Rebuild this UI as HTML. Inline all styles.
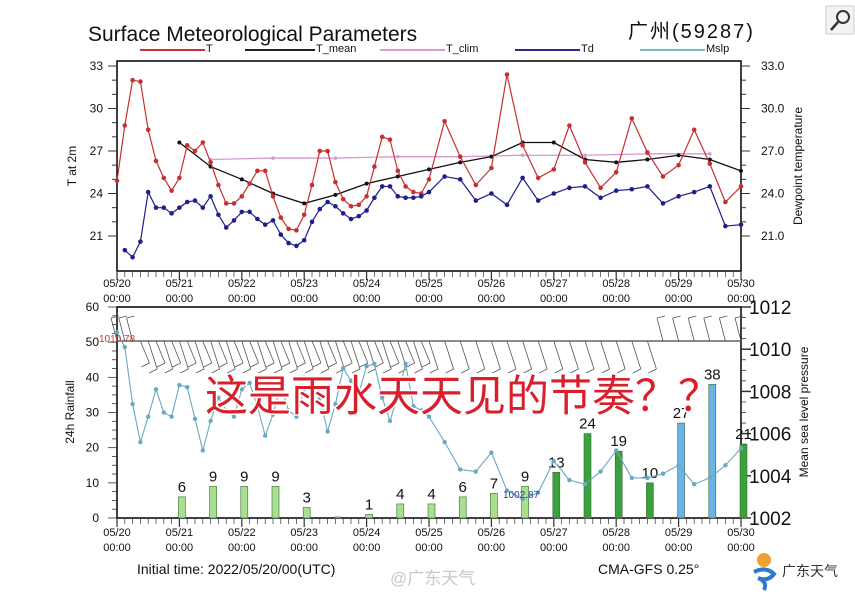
<!DOCTYPE html>
<html><head><meta charset="utf-8">
<style>
html,body{margin:0;padding:0;background:#fff;}
body{width:855px;height:596px;overflow:hidden;position:relative;font-family:"Liberation Sans","Noto Sans CJK SC",sans-serif;}
svg{position:absolute;left:0;top:0;}
text{font-family:"Liberation Sans","Noto Sans CJK SC",sans-serif;}
</style></head>
<body>
<svg id="c" width="855" height="596" viewBox="0 0 855 596"></svg>
<script>
// ---- data ----
const tHours = [0,3,6,9,12,15,18,21,24,27,30,33,36,39,42,45,48,51,54,57,60,63,66,69,72,75,78,81,84,87,90,93,96,99,102,105,108,111,114,117,120,126,132,138,144,150,156,162,168,174,180,186,192,198,204,210,216,222,228,234,240];
const tVals = [24.9,28.8,32.0,31.9,28.5,26.3,25.1,24.2,25.1,27.4,27.0,27.6,26.2,24.6,23.3,23.3,23.8,24.7,25.6,25.6,23.8,22.3,21.5,21.4,22.5,24.6,27.0,27.0,24.8,23.6,23.1,23.2,23.8,25.9,28.0,27.8,25.6,24.5,24.1,24.0,25.0,29.1,26.6,24.6,25.8,32.4,27.4,25.1,25.7,28.8,26.2,24.4,25.5,29.3,26.9,25.2,26.0,28.5,26.1,23.4,24.5];
const tdHours = [3,6,9,12,15,18,21,24,27,30,33,36,39,42,45,48,51,54,57,60,63,66,69,72,75,78,81,84,87,90,93,96,99,102,105,108,111,114,117,120,126,132,138,144,150,156,162,168,174,180,186,192,198,204,210,216,222,228,234,240];
const tdVals = [20.0,19.5,20.6,24.1,23.0,23.0,22.6,23.0,23.4,23.5,23.0,23.8,22.5,21.6,22.1,22.7,22.7,22.2,21.8,22.1,21.1,20.5,20.3,20.7,22.0,22.9,23.4,23.1,22.6,22.2,22.4,22.8,23.7,24.5,24.5,23.8,23.7,23.7,23.8,24.1,25.2,25.0,23.5,24.0,23.2,25.1,23.5,24.0,24.4,24.5,23.7,24.2,24.3,24.5,23.3,23.8,24.1,24.5,21.7,21.8];
const meanHours = [24,36,48,60,72,84,96,108,120,132,144,156,168,180,192,204,216,228,240];
const meanVals = [27.6,25.9,25.0,24.0,23.3,23.9,24.7,25.2,25.7,26.2,26.6,27.6,27.6,26.4,26.2,26.4,26.7,26.4,25.6];
const climHours = [36,60,84,108,132,156,180,204,228];
const climVals = [26.4,26.5,26.5,26.6,26.6,26.7,26.7,26.8,26.8];
const pHours = [0,3,6,9,12,15,18,21,24,27,30,33,36,39,42,45,48,51,54,57,60,63,66,69,72,75,78,81,84,87,90,93,96,99,102,105,108,111,114,117,120,126,132,138,144,150,156,162,168,174,180,186,192,198,204,210,216,222,228,234,240];
const pVals = [1010.8,1010.1,1007.4,1005.6,1006.8,1008.1,1007.0,1006.8,1008.3,1008.2,1006.7,1005.2,1006.6,1007.7,1007.1,1006.8,1008.1,1008.4,1007.3,1005.9,1006.9,1008.3,1007.1,1006.8,1008.1,1008.2,1007.7,1006.1,1007.4,1009.1,1008.5,1007.9,1009.2,1009.3,1007.7,1006.6,1007.8,1009.3,1007.3,1007.1,1006.8,1005.6,1004.3,1004.2,1005.1,1003.3,1002.9,1003.2,1004.7,1003.8,1003.6,1004.2,1005.2,1003.9,1003.9,1004.1,1004.5,1003.6,1003.9,1004.5,1005.3];
const rainHours = [24,36,48,60,72,84,96,108,120,132,144,156,168,180,192,204,216,228,240];
const rainVals = [6,9,9,9,3,0.3,1,4,4,6,7,9,13,24,19,10,27,38,21];
const rainLabels = ["6","9","9","9","3","","1","4","4","6","7","9","13","24","19","10","27","38","21"];
const dayLabels = ["05/20","05/21","05/22","05/23","05/24","05/25","05/26","05/27","05/28","05/29","05/30"];
const tTicks = [33,30,27,24,21];
const rTicks = [60,50,40,30,20,10,0];
const pTicks = [1012,1010,1008,1006,1004,1002];
const barbHours = [0,3,6,9,12,15,18,21,24,27,30,33,36,39,42,45,48,51,54,57,60,63,66,69,72,75,78,81,84,87,90,93,96,99,102,105,108,111,114,117,120,126,132,138,144,150,156,162,168,174,180,186,192,198,204,210,216,222,228,234,240];

// ---- axes ----
const X0=117, X1=741;
const x = h => X0 + (X1-X0)*h/240;
const TY0=61, TY1=271;
const yT = v => 66 + (33-v)*(170/12);
const BY0=307, BY1=518;
const yR = v => 518 - v*(211/60);
const yP = v => 518 - (v-1002)*(211/10);

const svg=document.getElementById('c');
const NS='http://www.w3.org/2000/svg';
function mk(tag,attrs,parent){const e=document.createElementNS(NS,tag);for(const k in attrs)e.setAttribute(k,attrs[k]);(parent||svg).appendChild(e);return e;}
function txt(s,attrs,parent){const e=mk('text',attrs,parent);e.textContent=s;return e;}

// title
let e;
e=txt('Surface Meteorological Parameters',{x:88,y:41,'font-size':21,fill:'#111'});

e=txt('广州(59287)',{x:628,y:38,'font-size':20,fill:'#111','letter-spacing':'2'});

// search icon
const si=mk('g',{});

mk('rect',{x:826,y:6,width:28,height:28,fill:'#f3f3f3',stroke:'#ccc'},si);
mk('circle',{cx:843,cy:17,r:6,fill:'none',stroke:'#333','stroke-width':2},si);
mk('line',{x1:838,y1:22,x2:831,y2:30,stroke:'#333','stroke-width':2.5},si);

// legend
const leg=[['T','#c83232',140,205],['T_mean','#222',245,315],['T_clim','#d89ad0',380,445],['Td','#2a2a80',515,580],['Mslp','#78b8c8',640,705]];
leg.forEach(l=>{const g=mk('g',{});

mk('line',{x1:l[2],y1:50,x2:l[3],y2:50,stroke:l[1],'stroke-width':2},g);
txt(l[0],{x:l[3]+1,y:52,'font-size':11,fill:'#111'},g);});

// panels
function frame(y0,y1,name){e=mk('rect',{x:X0,y:y0,width:X1-X0,height:y1-y0,fill:'none',stroke:'#000','stroke-width':1.5});
}
frame(TY0,TY1,'top-panel-frame');frame(BY0,BY1,'bottom-panel-frame');

// x ticks
function xaxis(ybase,ylab){for(let h=0;h<=240;h+=3){const major=h%24===0;mk('line',{x1:x(h),y1:ybase,x2:x(h),y2:ybase+(major?9:6),stroke:'#333','stroke-width':major?1.2:0.7});}
dayLabels.forEach((d,i)=>{e=txt(d,{x:x(i*24),y:ylab,'font-size':11,'text-anchor':'middle',fill:'#111'});

txt('00:00',{x:x(i*24),y:ylab+15,'font-size':11,'text-anchor':'middle',fill:'#111'});});}
xaxis(TY1,287);xaxis(BY1,536);

// top y axes
for(let v=21;v<=33;v++){mk('line',{x1:X0,y1:yT(v),x2:X0-(v%3===0?9:5),y2:yT(v),stroke:'#333'});mk('line',{x1:X1,y1:yT(v),x2:X1+(v%3===0?9:5),y2:yT(v),stroke:'#333'});}
tTicks.forEach(v=>{e=txt(String(v),{x:103,y:yT(v)+4,'font-size':12,'text-anchor':'end',fill:'#111'});

txt(v.toFixed(1),{x:761,y:yT(v)+4,'font-size':12,fill:'#111'});});
e=txt('T at 2m',{x:0,y:0,'font-size':12,'text-anchor':'middle',transform:'translate(76,166) rotate(-90)',fill:'#111'});

e=txt('Dewpoint temperature',{x:0,y:0,'font-size':12,'text-anchor':'middle',transform:'translate(802,166) rotate(-90)',fill:'#111'});


// bottom y axes
for(let v=0;v<=60;v+=2.5){const maj=v%10===0;mk('line',{x1:X0,y1:yR(v),x2:X0-(maj?9:5),y2:yR(v),stroke:'#333','stroke-width':0.8});}
rTicks.forEach(v=>{e=txt(String(v),{x:99,y:yR(v)+4,'font-size':12,'text-anchor':'end',fill:'#111'});
});
for(let v=1002;v<=1012;v+=0.5){const maj=v%2===0;mk('line',{x1:X1,y1:yP(v),x2:X1+(maj?10:5),y2:yP(v),stroke:'#333','stroke-width':maj?1.5:0.8});}
pTicks.forEach(v=>{e=txt(String(v),{x:749,y:yP(v)+7,'font-size':19,fill:'#111'});
});
e=txt('24h Rainfall',{x:0,y:0,'font-size':12,'text-anchor':'middle',transform:'translate(74,412) rotate(-90)',fill:'#111'});

e=txt('Mean sea level pressure',{x:0,y:0,'font-size':12,'text-anchor':'middle',transform:'translate(808,412) rotate(-90)',fill:'#111'});


// series
function series(hs,vs,yf,color,name,r,w){const g=mk('g',{});

mk('polyline',{points:hs.map((h,i)=>x(h)+','+yf(vs[i])).join(' '),fill:'none',stroke:color,'stroke-width':w||1.2},g);
hs.forEach((h,i)=>{const c=mk('circle',{cx:x(h),cy:yf(vs[i]),r:r,fill:color},g);
});}
series(climHours,climVals,yT,'#d898d0','t-clim-line',1.8,1.3);
series(meanHours,meanVals,yT,'#111','t-mean-line',2,1.3);
series(tVals.map((v,i)=>tHours[i]),tVals,yT,'#c83030','t-line',2.3,1.2);
series(tdHours,tdVals,yT,'#1e1e8c','td-line',2.3,1.2);

// wind barb baseline and barbs
mk('line',{x1:X0,y1:341,x2:X1,y2:341,stroke:'#444','stroke-width':1.3});
const bg=mk('g',{});
barbHours.forEach((h,i)=>{const bx=x(h);if(h<9||h>=210){
 mk('line',{x1:bx,y1:341,x2:bx-6,y2:318,stroke:'#555','stroke-width':0.8},bg);
 mk('line',{x1:bx-6,y1:318,x2:bx+2,y2:316,stroke:'#555','stroke-width':0.8},bg);}
 else{const len=(h%6===0)?28:22;
 mk('line',{x1:bx,y1:341,x2:bx+9,y2:341+len,stroke:'#555','stroke-width':0.8},bg);
 mk('line',{x1:bx+9,y1:341+len,x2:bx+1,y2:341+len+4,stroke:'#555','stroke-width':0.8},bg);}});

// rain bars
rainHours.forEach((h,i)=>{const v=rainVals[i];const col=v>=25?'#6ab4ea':(v>=10?'#3ca03c':'#a8e090');
const b=mk('rect',{x:x(h)-1,y:yR(v),width:7,height:BY1-yR(v),fill:col,stroke:'#3a6a3a','stroke-width':0.6});

if(rainLabels[i]){const t=txt(rainLabels[i],{x:x(h)+2.5,y:yR(v)-5,'font-size':15,'text-anchor':'middle',fill:'#111'});
}});

// pressure line
series(pHours,pVals,yP,'#6aa8c4','mslp-line',2.2,1.1);
e=txt('1010.78',{x:99,y:342,'font-size':10,fill:'#c04040'});

e=txt('1002.87',{x:503,y:498,'font-size':10,fill:'#2a3a9a'});


// overlay caption
e=txt('这是雨水天天见的节奏？？',{x:205,y:411,'font-size':43,fill:'#d8202c',stroke:'#fff','stroke-width':3,'paint-order':'stroke','font-family':'"Noto Sans CJK SC","WenQuanYi Zen Hei",sans-serif'});


// footer
e=txt('Initial time: 2022/05/20/00(UTC)',{x:137,y:574,'font-size':14,fill:'#111'});

e=txt('@广东天气',{x:390,y:584,'font-size':17,fill:'#c8c8c8'});

e=txt('CMA-GFS  0.25°',{x:598,y:574,'font-size':14,fill:'#111'});

const lg=mk('g',{});
mk('circle',{cx:764,cy:560,r:7,fill:'#f0a030'},lg);
mk('path',{d:'M754 572 q12 -6 20 2 q-6 8 -16 4 q10 4 6 12',fill:'none',stroke:'#2a7ad0','stroke-width':4},lg);
txt('广东天气',{x:782,y:576,'font-size':14,fill:'#333'},lg);
</script>
</body></html>
